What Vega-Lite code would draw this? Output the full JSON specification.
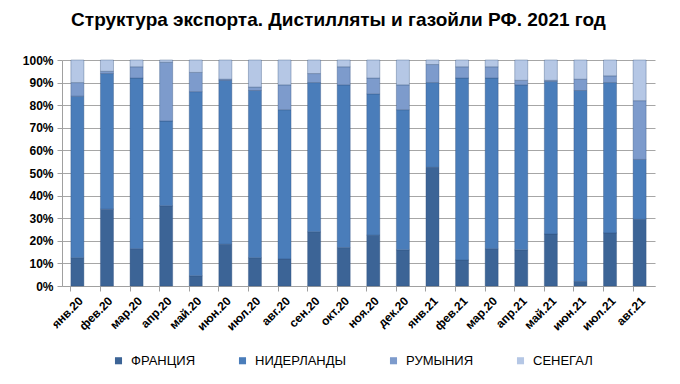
{
  "$schema": "https://vega.github.io/schema/vega-lite/v6.json",
  "autosize": {"type": "none"},
  "width": 593,
  "height": 226,
  "padding": {"left": 62, "top": 60, "right": 25, "bottom": 98},
  "background": "#ffffff",
  "title": {
    "text": "Структура экспорта. Дистилляты и газойли РФ. 2021 год",
    "font": "Liberation Sans",
    "fontSize": 19,
    "fontWeight": "bold",
    "color": "#000000",
    "anchor": "middle",
    "dx": -20,
    "offset": 24
  },
  "data": {
    "values": [
      {"m": "янв.20", "c": "ФРАНЦИЯ", "k": 1, "v": 12.5},
      {"m": "янв.20", "c": "НИДЕРЛАНДЫ", "k": 2, "v": 71.5},
      {"m": "янв.20", "c": "РУМЫНИЯ", "k": 3, "v": 6},
      {"m": "янв.20", "c": "СЕНЕГАЛ", "k": 4, "v": 10},
      {"m": "фев.20", "c": "ФРАНЦИЯ", "k": 1, "v": 34},
      {"m": "фев.20", "c": "НИДЕРЛАНДЫ", "k": 2, "v": 60},
      {"m": "фев.20", "c": "РУМЫНИЯ", "k": 3, "v": 1},
      {"m": "фев.20", "c": "СЕНЕГАЛ", "k": 4, "v": 5},
      {"m": "мар.20", "c": "ФРАНЦИЯ", "k": 1, "v": 16.5},
      {"m": "мар.20", "c": "НИДЕРЛАНДЫ", "k": 2, "v": 75.5},
      {"m": "мар.20", "c": "РУМЫНИЯ", "k": 3, "v": 5},
      {"m": "мар.20", "c": "СЕНЕГАЛ", "k": 4, "v": 3},
      {"m": "апр.20", "c": "ФРАНЦИЯ", "k": 1, "v": 35.5},
      {"m": "апр.20", "c": "НИДЕРЛАНДЫ", "k": 2, "v": 37.5},
      {"m": "апр.20", "c": "РУМЫНИЯ", "k": 3, "v": 26},
      {"m": "апр.20", "c": "СЕНЕГАЛ", "k": 4, "v": 1},
      {"m": "май.20", "c": "ФРАНЦИЯ", "k": 1, "v": 4.5},
      {"m": "май.20", "c": "НИДЕРЛАНДЫ", "k": 2, "v": 81.5},
      {"m": "май.20", "c": "РУМЫНИЯ", "k": 3, "v": 8.5},
      {"m": "май.20", "c": "СЕНЕГАЛ", "k": 4, "v": 5.5},
      {"m": "июн.20", "c": "ФРАНЦИЯ", "k": 1, "v": 18.5},
      {"m": "июн.20", "c": "НИДЕРЛАНДЫ", "k": 2, "v": 72.5},
      {"m": "июн.20", "c": "РУМЫНИЯ", "k": 3, "v": 0.5},
      {"m": "июн.20", "c": "СЕНЕГАЛ", "k": 4, "v": 8.5},
      {"m": "июл.20", "c": "ФРАНЦИЯ", "k": 1, "v": 12.5},
      {"m": "июл.20", "c": "НИДЕРЛАНДЫ", "k": 2, "v": 74},
      {"m": "июл.20", "c": "РУМЫНИЯ", "k": 3, "v": 1.5},
      {"m": "июл.20", "c": "СЕНЕГАЛ", "k": 4, "v": 12},
      {"m": "авг.20", "c": "ФРАНЦИЯ", "k": 1, "v": 12},
      {"m": "авг.20", "c": "НИДЕРЛАНДЫ", "k": 2, "v": 66},
      {"m": "авг.20", "c": "РУМЫНИЯ", "k": 3, "v": 11},
      {"m": "авг.20", "c": "СЕНЕГАЛ", "k": 4, "v": 11},
      {"m": "сен.20", "c": "ФРАНЦИЯ", "k": 1, "v": 24},
      {"m": "сен.20", "c": "НИДЕРЛАНДЫ", "k": 2, "v": 66},
      {"m": "сен.20", "c": "РУМЫНИЯ", "k": 3, "v": 4},
      {"m": "сен.20", "c": "СЕНЕГАЛ", "k": 4, "v": 6},
      {"m": "окт.20", "c": "ФРАНЦИЯ", "k": 1, "v": 17},
      {"m": "окт.20", "c": "НИДЕРЛАНДЫ", "k": 2, "v": 72},
      {"m": "окт.20", "c": "РУМЫНИЯ", "k": 3, "v": 8},
      {"m": "окт.20", "c": "СЕНЕГАЛ", "k": 4, "v": 3},
      {"m": "ноя.20", "c": "ФРАНЦИЯ", "k": 1, "v": 22.5},
      {"m": "ноя.20", "c": "НИДЕРЛАНДЫ", "k": 2, "v": 62.5},
      {"m": "ноя.20", "c": "РУМЫНИЯ", "k": 3, "v": 7},
      {"m": "ноя.20", "c": "СЕНЕГАЛ", "k": 4, "v": 8},
      {"m": "дек.20", "c": "ФРАНЦИЯ", "k": 1, "v": 16},
      {"m": "дек.20", "c": "НИДЕРЛАНДЫ", "k": 2, "v": 62},
      {"m": "дек.20", "c": "РУМЫНИЯ", "k": 3, "v": 11},
      {"m": "дек.20", "c": "СЕНЕГАЛ", "k": 4, "v": 11},
      {"m": "янв.21", "c": "ФРАНЦИЯ", "k": 1, "v": 52.5},
      {"m": "янв.21", "c": "НИДЕРЛАНДЫ", "k": 2, "v": 37.5},
      {"m": "янв.21", "c": "РУМЫНИЯ", "k": 3, "v": 8},
      {"m": "янв.21", "c": "СЕНЕГАЛ", "k": 4, "v": 2},
      {"m": "фев.21", "c": "ФРАНЦИЯ", "k": 1, "v": 11.5},
      {"m": "фев.21", "c": "НИДЕРЛАНДЫ", "k": 2, "v": 80.5},
      {"m": "фев.21", "c": "РУМЫНИЯ", "k": 3, "v": 5},
      {"m": "фев.21", "c": "СЕНЕГАЛ", "k": 4, "v": 3},
      {"m": "мар.20 ", "c": "ФРАНЦИЯ", "k": 1, "v": 16.5},
      {"m": "мар.20 ", "c": "НИДЕРЛАНДЫ", "k": 2, "v": 75.5},
      {"m": "мар.20 ", "c": "РУМЫНИЯ", "k": 3, "v": 5},
      {"m": "мар.20 ", "c": "СЕНЕГАЛ", "k": 4, "v": 3},
      {"m": "апр.21", "c": "ФРАНЦИЯ", "k": 1, "v": 16},
      {"m": "апр.21", "c": "НИДЕРЛАНДЫ", "k": 2, "v": 73},
      {"m": "апр.21", "c": "РУМЫНИЯ", "k": 3, "v": 2},
      {"m": "апр.21", "c": "СЕНЕГАЛ", "k": 4, "v": 9},
      {"m": "май.21", "c": "ФРАНЦИЯ", "k": 1, "v": 23},
      {"m": "май.21", "c": "НИДЕРЛАНДЫ", "k": 2, "v": 67.5},
      {"m": "май.21", "c": "РУМЫНИЯ", "k": 3, "v": 0.5},
      {"m": "май.21", "c": "СЕНЕГАЛ", "k": 4, "v": 9},
      {"m": "июн.21", "c": "ФРАНЦИЯ", "k": 1, "v": 2},
      {"m": "июн.21", "c": "НИДЕРЛАНДЫ", "k": 2, "v": 84.5},
      {"m": "июн.21", "c": "РУМЫНИЯ", "k": 3, "v": 5},
      {"m": "июн.21", "c": "СЕНЕГАЛ", "k": 4, "v": 8.5},
      {"m": "июл.21", "c": "ФРАНЦИЯ", "k": 1, "v": 23.5},
      {"m": "июл.21", "c": "НИДЕРЛАНДЫ", "k": 2, "v": 66.5},
      {"m": "июл.21", "c": "РУМЫНИЯ", "k": 3, "v": 3},
      {"m": "июл.21", "c": "СЕНЕГАЛ", "k": 4, "v": 7},
      {"m": "авг.21", "c": "ФРАНЦИЯ", "k": 1, "v": 29.5},
      {"m": "авг.21", "c": "НИДЕРЛАНДЫ", "k": 2, "v": 26.5},
      {"m": "авг.21", "c": "РУМЫНИЯ", "k": 3, "v": 26},
      {"m": "авг.21", "c": "СЕНЕГАЛ", "k": 4, "v": 18}
    ]
  },
  "mark": {"type": "bar", "stroke": "#2f4f7a", "strokeWidth": 0.6, "strokeOpacity": 0.6},
  "encoding": {
    "x": {
      "field": "m",
      "type": "nominal",
      "sort": null,
      "scale": {"paddingInner": 0.56, "paddingOuter": 0.3},
      "axis": {
        "title": null,
        "labelAngle": -45,
        "labelAlign": "right",
        "labelBaseline": "top",
        "labelFont": "Liberation Sans",
        "labelFontSize": 12,
        "labelFontWeight": "bold",
        "labelColor": "#000000",
        "labelPadding": 4,
        "labelOverlap": false,
        "bandPosition": 0,
        "tickColor": "#a0a0a0",
        "tickSize": 5,
        "domainColor": "#a0a0a0",
        "grid": false
      }
    },
    "y": {
      "field": "v",
      "type": "quantitative",
      "stack": "normalize",
      "scale": {"domain": [0, 1]},
      "axis": {
        "title": null,
        "format": ".0%",
        "values": [0, 0.1, 0.2, 0.3, 0.4, 0.5, 0.6, 0.7, 0.8, 0.9, 1],
        "labelOverlap": false,
        "labelFont": "Liberation Sans",
        "labelFontSize": 12,
        "labelFontWeight": "bold",
        "labelColor": "#000000",
        "labelPadding": 4,
        "tickColor": "#a0a0a0",
        "tickSize": 5,
        "domainColor": "#a0a0a0",
        "gridColor": "#a6a6a6",
        "gridWidth": 1
      }
    },
    "color": {
      "field": "c",
      "type": "nominal",
      "sort": ["ФРАНЦИЯ", "НИДЕРЛАНДЫ", "РУМЫНИЯ", "СЕНЕГАЛ"],
      "scale": {
        "domain": ["ФРАНЦИЯ", "НИДЕРЛАНДЫ", "РУМЫНИЯ", "СЕНЕГАЛ"],
        "range": ["#3c6496", "#4a7dba", "#7d9bcc", "#b5c7e5"]
      },
      "legend": {
        "title": null,
        "orient": "none",
        "direction": "horizontal",
        "legendX": 50,
        "legendY": 294,
        "symbolType": "square",
        "symbolSize": 50,
        "symbolStrokeWidth": 0,
        "labelFont": "Liberation Sans",
        "labelFontSize": 13,
        "labelColor": "#000000",
        "labelOffset": 6,
        "columnPadding": 40
      }
    },
    "order": {"field": "k", "type": "quantitative", "sort": "ascending"}
  },
  "config": {
    "view": {"stroke": null}
  }
}
